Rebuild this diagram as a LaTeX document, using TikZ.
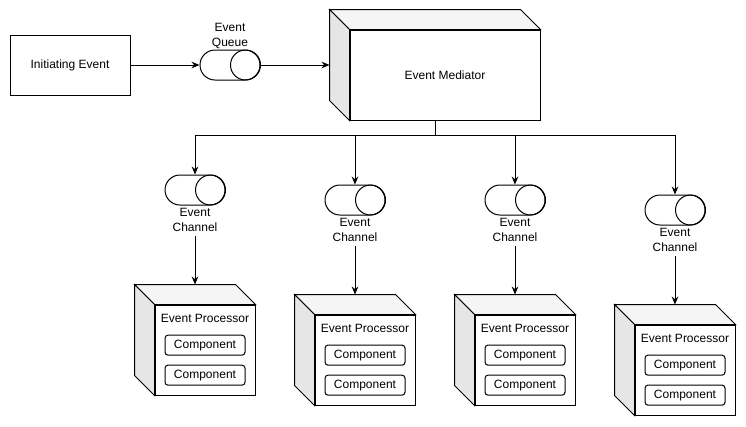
\documentclass[tikz,border=0pt]{standalone}
\usepackage{fontspec}
\setmainfont{Liberation Sans}
\usetikzlibrary{arrows.meta,calc}
\definecolor{topgray}{HTML}{F5F5F5}
\definecolor{sidegray}{HTML}{E6E6E6}
\tikzset{
	% boxes, pipes and arrows of the event flow
	plain box/.style={rectangle,draw,fill=white,minimum width=90pt,minimum height=45pt,inner sep=0},
	front face/.style={rectangle,draw,fill=white,inner sep=0},
	pipe/.style={rectangle,draw,rounded corners=11.25pt,minimum width=45pt,minimum height=22.5pt,inner sep=0},
	part box/.style={rectangle,draw,rounded corners=2.25pt,minimum width=60pt,minimum height=15pt,inner sep=0},
	flow/.style={-{Stealth[length=6pt,width=5pt]}}
}
\begin{document}
\begin{tikzpicture}[x=0.75pt,y=-0.75pt,line width=0.75pt,font=\fontsize{9}{11.25}\selectfont]
			% macros for the depth faces of a box and the open end of a pipe
			\newcommand{\drawsides}[1]{
				\filldraw[fill=topgray] (#1.north west) -- ++(-15pt,15pt) -- ([shift={(-15pt,15pt)}]#1.north east) -- (#1.north east) -- cycle;
				\filldraw[fill=sidegray] (#1.north west) -- ++(-15pt,15pt) -- ([shift={(-15pt,15pt)}]#1.south west) -- (#1.south west) -- cycle;}
			\newcommand{\pipeend}[1]{\draw ([xshift=-11.25pt]#1.east) circle[radius=11.25pt];}
			
			\useasboundingbox (0,0) rectangle (746,426);
			
			\node[plain box] (init) at (70,65) {Initiating Event};
			\node[pipe] (queue) at (230,65) {}; \pipeend{queue}
			\node[align=center] (queue label) at (230,36) {Event\\Queue};
			\node[front face,minimum width=142.5pt,minimum height=67.5pt] (med) at (445,75) {Event Mediator};
			\drawsides{med}
			\coordinate (med back) at ([xshift=-15pt]med.west);
			
			\draw[flow] (init) -- (queue);
			\draw[flow] (queue.east) -- (queue.east -| med back);
			
			% bus from the mediator to the channels
			\coordinate (bus) at (435,135);
			\draw (med.south -| bus) -- (bus);
			
			\foreach \i/\x/\y in {1/205/350,2/365/360,3/525/360,4/685/370}{
				\node[pipe] (ch\i) at (\x-10,\y-160) {}; \pipeend{ch\i}
				\node[align=center] (chl\i) at (\x-10,\y-130.5) {Event\\Channel};
				\node[front face,minimum width=75pt,minimum height=67.5pt] (proc\i) at (\x,\y) {};
				\drawsides{proc\i}
				\node (pt\i) at ([yshift=-10.5pt]proc\i.north) {Event Processor};
				\node[part box] (pa\i) at ([yshift=-30.5pt]proc\i.north) {Component};
				\node[part box] (pb\i) at ([yshift=-53pt]proc\i.north) {Component};
				\coordinate (pback\i) at ([yshift=15pt]proc\i.north);
				\draw[flow] (ch\i |- bus) -- (ch\i);
				\draw[flow] (chl\i) -- (chl\i |- pback\i);
			}
			\draw (ch1 |- bus) -- (ch4 |- bus);
\end{tikzpicture}
\end{document}
